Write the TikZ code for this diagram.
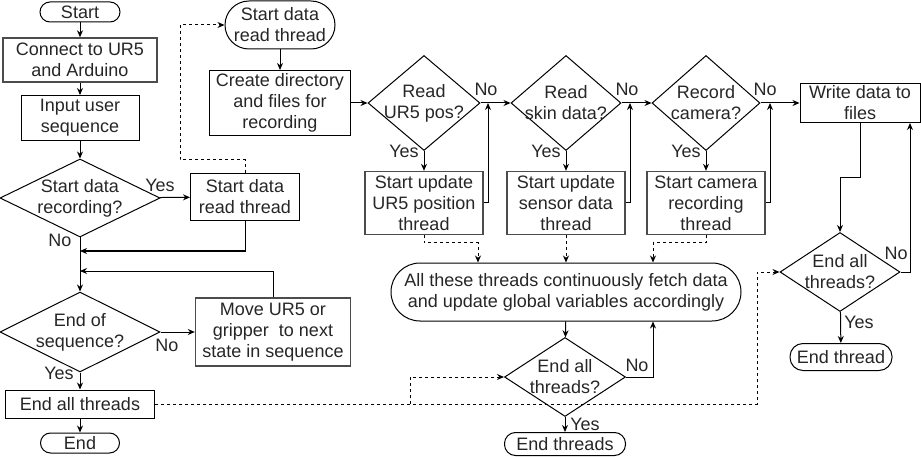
\documentclass[tikz,border=0pt]{standalone}
\usepackage{fontspec}
\setmainfont{Liberation Sans}
\usetikzlibrary{shapes.geometric,arrows.meta}
\begin{document}
\begin{tikzpicture}[
			x=1pt,y=-1pt,
			line width=1pt,
			every node/.style={font=\fontsize{18}{21}\selectfont,align=center,text=black!85},
			box/.style={draw,rectangle,inner sep=1pt},
			gbox/.style={box,draw=black!70,line width=1.4pt},
			decide/.style={draw,diamond,inner sep=-3pt},
			term/.style={draw,rectangle,rounded corners=10pt,inner sep=1pt},
			arr/.style={-{Stealth[length=7pt,width=6pt]}},
			dasharr/.style={dashed,arr}
		]
		\useasboundingbox (0,0) rectangle (921,457);
		\node[term,minimum width=80,minimum height=20] (start) at (80,12) {Start};
		\node[gbox,minimum width=154,minimum height=44] (conn) at (80,60) {Connect to UR5\\and Arduino};
		\node[box,minimum width=118,minimum height=45] (seq) at (80,118) {Input user\\sequence};
		\node[decide,shape aspect=2,minimum width=160,minimum height=78] (recq) at (80,198) {Start data\\recording?};
		\node[box,minimum width=109,minimum height=47] (sdr) at (245,197) {Start data\\read thread};
		\node[decide,shape aspect=2,minimum width=160,minimum height=80] (eos) at (80,332) {End of\\sequence?};
		\node[gbox,minimum width=155,minimum height=68] (move) at (273,332) {Move UR5 or\\gripper\ \ to next\\state in sequence};
		\node[box,minimum width=149,minimum height=28] (endall) at (80,404) {End all threads};
		\node[term,minimum width=79,minimum height=20] (fin) at (80,443) {End};
		\node[term,rounded corners=24pt,minimum width=110,minimum height=48] (thr) at (280,25) {Start data\\read thread};
		\node[box,minimum width=141,minimum height=65] (mkdir) at (280,103) {Create directory\\and files for\\recording};
		\node[decide,shape aspect=1.18,minimum width=112,minimum height=95] (rpos) at (424,103) {Read\\UR5 pos?};
		\node[decide,shape aspect=1.18,minimum width=110,minimum height=95] (rskin) at (566,103) {Read\\skin data?};
		\node[decide,shape aspect=1.18,minimum width=108,minimum height=95] (rcam) at (706,103) {Record\\camera?};
		\node[gbox,minimum width=118,minimum height=63] (upos) at (424,203) {Start update\\UR5 position\\thread};
		\node[gbox,minimum width=118,minimum height=63] (uskin) at (566,203) {Start update\\sensor data\\thread};
		\node[gbox,minimum width=118,minimum height=63] (ucam) at (706,203) {Start camera\\recording\\thread};
		\node[term,rounded corners=29pt,minimum width=350,minimum height=58] (all) at (566,292) {All these threads continuously fetch data\\and update global variables accordingly};
		\node[decide,shape aspect=1.53,minimum width=121,minimum height=79] (endq) at (565,377) {End all\\threads?};
		\node[term,rounded corners=11pt,minimum width=121,minimum height=23] (endthr) at (565,444) {End threads};
		\node[box,minimum width=120,minimum height=39] (write) at (860,103) {Write data to\\files};
		\node[decide,shape aspect=1.52,minimum width=120,minimum height=79] (wendq) at (840,272) {End all\\threads?};
		\node[term,rounded corners=13pt,minimum width=102,minimum height=27] (wend) at (841,357) {End thread};

		\node (yrec) at (160,185) {Yes};
		\node (nrec) at (60,240) {No};
		\node (neos) at (167,345) {No};
		\node (yeos) at (59,373) {Yes};
		\node (npos) at (486,89) {No};
		\node (ypos) at (404,151) {Yes};
		\node (nskin) at (627,89) {No};
		\node (yskin) at (546,151) {Yes};
		\node (ncam) at (765,89) {No};
		\node (ycam) at (686,151) {Yes};
		\node (nend) at (637,365) {No};
		\node (yend) at (585,424) {Yes};
		\node (nwend) at (896,253) {No};
		\node (ywend) at (859,322) {Yes};

		\coordinate (j1) at (80,251);
		\coordinate (j2) at (80,271);
		\coordinate (d1) at (180,160);
		\coordinate (k1) at (488,103);
		\coordinate (k2) at (630,103);
		\coordinate (k3) at (770,103);
		\coordinate (m1) at (478,243);
		\coordinate (m3) at (653,243);
		\coordinate (m5) at (757,404);
		\coordinate (m6) at (410,404);
		\coordinate (r1) at (840,178);
		\coordinate (r2) at (910,123);

		\draw[arr] (start) -- (conn);
		\draw[arr] (conn) -- (seq);
		\draw[arr] (seq) -- (recq);
		\draw[arr] (recq) -- (sdr);
		\draw[arr] (recq) -- (eos);
		\draw[arr] (sdr.south) |- (j1);
		\draw[arr] (move.north) |- (j2);
		\draw[arr] (eos) -- (move);
		\draw[arr] (eos) -- (endall);
		\draw[arr] (endall) -- (fin);
		\draw[dasharr] (sdr.north) |- (d1) |- (thr.west);
		\draw[arr] (thr) -- (mkdir);
		\draw[arr] (mkdir) -- (rpos);
		\draw[arr] (rpos) -- (rskin);
		\draw[arr] (rskin) -- (rcam);
		\draw[arr] (rcam) -- (write);
		\draw[arr] (rpos) -- (upos);
		\draw[arr] (rskin) -- (uskin);
		\draw[arr] (rcam) -- (ucam);
		\draw[arr] (upos.east) -| (k1);
		\draw[arr] (uskin.east) -| (k2);
		\draw[arr] (ucam.east) -| (k3);
		\draw[dasharr] (upos.south) |- (m1) -- (m1 |- all.north);
		\draw[dasharr] (uskin) -- (all);
		\draw[dasharr] (ucam.south) |- (m3) -- (m3 |- all.north);
		\draw[arr] (all) -- (endq);
		\draw[arr] (endq.east) -| (m3 |- all.south);
		\draw[arr] (endq) -- (endthr);
		\draw[dasharr] (endall.east) -- (m5) |- (wendq.west);
		\draw[dasharr] (m6) |- (endq.west);
		\draw[arr] (write.south) |- (r1) -- (wendq.north);
		\draw[arr] (wendq.east) -| (r2);
		\draw[arr] (wendq) -- (wend);
	\end{tikzpicture}
\end{document}
